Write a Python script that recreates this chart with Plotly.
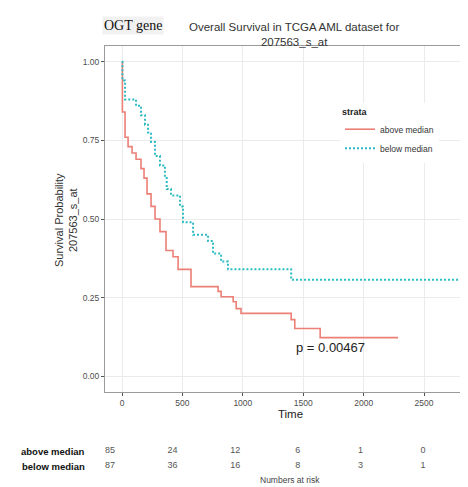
import plotly.graph_objects as go

W, H = 468, 487

# Kaplan-Meier step data
above_time = [0, 3, 25, 50, 83, 116, 157, 182, 207, 240, 273, 314, 364, 422, 464, 571, 795, 820, 920, 945, 985, 1400, 1430, 1640, 2285]
above_surv = [1.0, 0.84, 0.76, 0.73, 0.71, 0.69, 0.66, 0.63, 0.58, 0.54, 0.50, 0.46, 0.40, 0.38, 0.34, 0.285, 0.27, 0.253, 0.237, 0.215, 0.20, 0.18, 0.152, 0.123, 0.123]

below_time = [0, 3, 25, 116, 157, 190, 215, 240, 273, 314, 355, 370, 405, 480, 505, 588, 712, 753, 820, 877, 1400, 2865]
below_surv = [1.0, 0.94, 0.88, 0.86, 0.83, 0.80, 0.775, 0.745, 0.70, 0.67, 0.63, 0.595, 0.575, 0.54, 0.49, 0.45, 0.43, 0.39, 0.365, 0.34, 0.307, 0.307]

risk_times = [0, 500, 1000, 1500, 2000, 2500]
risk_above = [85, 24, 12, 6, 1, 0]
risk_below = [87, 36, 16, 8, 3, 1]
strata = ["above median", "below median"]

x_ticks = [0, 500, 1000, 1500, 2000, 2500]
y_ticks = [0.0, 0.25, 0.5, 0.75, 1.0]
y_ticktext = ["0.00", "0.25", "0.50", "0.75", "1.00"]

RED = "#EC7F76"
TEAL = "#2DBCC1"
SANS = "Liberation Sans, Arial, sans-serif"

def px_x(p):
    return p / W

def px_y(p):
    return 1 - p / H

fig = go.Figure()
fig.add_trace(go.Scatter(x=above_time, y=above_surv, mode="lines", line_shape="hv",
                         name=strata[0], line=dict(color=RED, width=1.6)))
fig.add_trace(go.Scatter(x=below_time, y=below_surv, mode="lines", line_shape="hv",
                         name=strata[1], line=dict(color=TEAL, width=2, dash="2px,2px")))

# risk table
fig.add_trace(go.Scatter(x=risk_times, y=[1] * len(risk_times), text=[str(v) for v in risk_above],
                         mode="text", textfont=dict(size=9, color="#555555", family=SANS),
                         xaxis="x2", yaxis="y2", showlegend=False, hoverinfo="skip"))
fig.add_trace(go.Scatter(x=risk_times, y=[0] * len(risk_times), text=[str(v) for v in risk_below],
                         mode="text", textfont=dict(size=9, color="#555555", family=SANS),
                         xaxis="x2", yaxis="y2", showlegend=False, hoverinfo="skip"))

axis_common = dict(showgrid=True, gridcolor="#ebebeb", gridwidth=1, zeroline=False,
                   showline=True, linecolor="#9a9a9a", linewidth=1, mirror=True,
                   ticks="outside", ticklen=3, tickcolor="#555555",
                   tickfont=dict(size=8.5, color="#4d4d4d", family=SANS))

fig.update_layout(
    width=W, height=H,
    margin=dict(l=0, r=0, t=0, b=0),
    paper_bgcolor="white", plot_bgcolor="white",
    xaxis=dict(domain=[px_x(97), 1], range=[-141, 2930], tickvals=x_ticks,
               title=dict(text="Time", font=dict(size=11.5, color="#222222", family=SANS), standoff=2),
               **axis_common),
    yaxis=dict(domain=[px_y(384), px_y(38)], range=[-0.05, 1.05], tickvals=y_ticks,
               ticktext=y_ticktext, **axis_common),
    xaxis2=dict(domain=[px_x(97), 1], range=[-40, 2923], visible=False, anchor="y2"),
    yaxis2=dict(domain=[px_y(465.5), px_y(435.5)], range=[-0.5, 1.5], visible=False, anchor="x2"),
    legend=dict(x=px_x(332), y=px_y(95), xanchor="left", yanchor="top",
                title=dict(text="<b>strata</b>", font=dict(size=9, color="#222222", family=SANS)),
                font=dict(size=8.5, color="#333333", family=SANS),
                bgcolor="rgba(255,255,255,1)", tracegroupgap=0, itemwidth=30),
    showlegend=True,
)

annos = [
    dict(text="OGT gene", x=px_x(125), y=px_y(17), font=dict(size=14, color="#111111", family="Liberation Serif, Times New Roman, serif"),
         bgcolor="#f1f1f1"),
    dict(text="Overall Survival in TCGA AML dataset for<br>207563_s_at", x=px_x(286), y=px_y(26),
         font=dict(size=11.5, color="#333333", family=SANS)),
    dict(text="Survival Probability<br>207563_s_at", x=px_x(58), y=px_y(212), textangle=-90,
         font=dict(size=11, color="#333333", family=SANS)),
    dict(text="p = 0.00467", x=px_x(322), y=px_y(339), font=dict(size=13, color="#222222", family=SANS)),
    dict(text="<b>above median</b>", x=px_x(79), y=px_y(443), xanchor="right", font=dict(size=9.5, color="#111111", family=SANS)),
    dict(text="<b>below median</b>", x=px_x(79), y=px_y(458), xanchor="right", font=dict(size=9.5, color="#111111", family=SANS)),
    dict(text="Numbers at risk", x=px_x(282), y=px_y(472), font=dict(size=8.5, color="#444444", family=SANS)),
]
for a in annos:
    a.setdefault("xanchor", "center")
    fig.add_annotation(xref="paper", yref="paper", yanchor="middle", showarrow=False, **a)

fig.write_html("out.html")
